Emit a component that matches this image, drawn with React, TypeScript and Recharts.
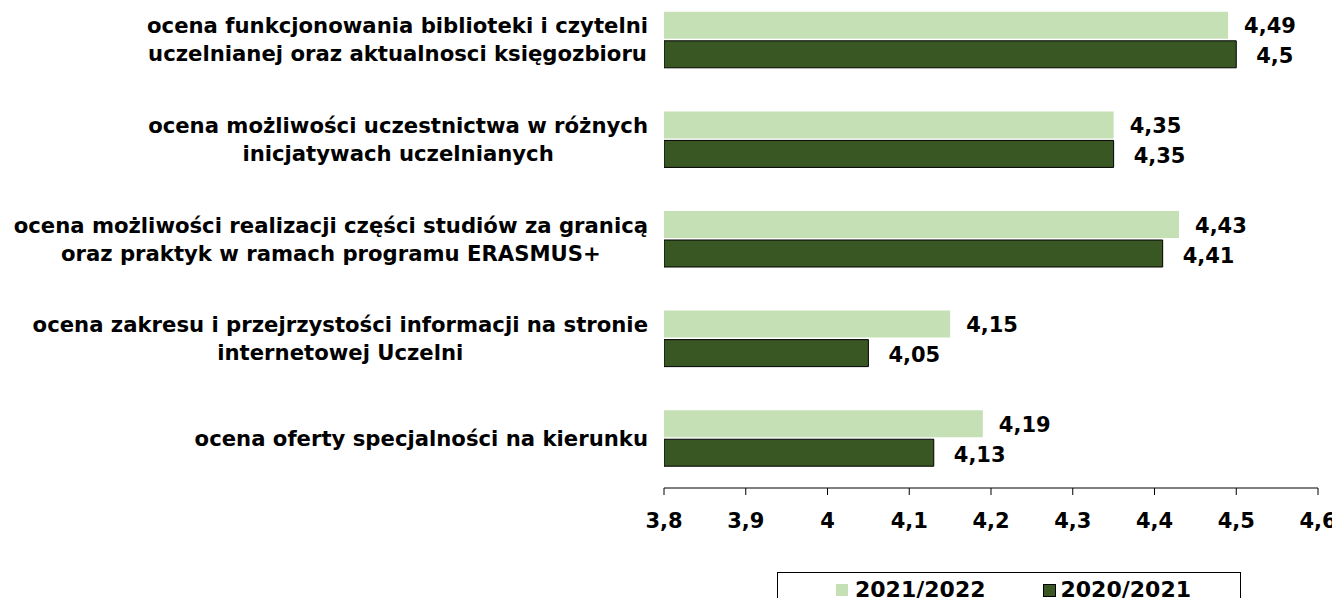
import React, { useLayoutEffect, useRef, useState } from "react";
import { BarChart, Bar, XAxis, YAxis, LabelList } from "recharts";

const categories = [
  "ocena funkcjonowania biblioteki i czytelni\nuczelnianej oraz aktualnosci księgozbioru",
  "ocena możliwości uczestnictwa w różnych\ninicjatywach uczelnianych",
  "ocena możliwości realizacji części studiów za granicą\noraz praktyk w ramach programu ERASMUS+",
  "ocena zakresu i przejrzystości informacji na stronie\ninternetowej Uczelni",
  "ocena oferty specjalności na kierunku",
];
const values2122 = [4.49, 4.35, 4.43, 4.15, 4.19];
const values2021 = [4.5, 4.35, 4.41, 4.05, 4.13];
const xTicks = [3.8, 3.9, 4.0, 4.1, 4.2, 4.3, 4.4, 4.5, 4.6];

const LIGHT = "#C5E0B4";
const DARK = "#385723";
const FONT = "'DejaVu Sans', Verdana, sans-serif";
const FS = 21;

const data = categories.map((name, i) => ({
  name,
  a: values2122[i],
  b: values2021[i],
}));

const fmt = (v: number) => String(v).replace(".", ",");

// lines are centred on each other, the whole block is right-aligned to the axis
const CategoryTick = (props: any) => {
  const { x, y, payload } = props;
  const lines: string[] = String(payload.value).split("\n");
  const ref = useRef<SVGGElement>(null);
  const [w, setW] = useState<number | null>(null);
  useLayoutEffect(() => {
    if (ref.current) setW(ref.current.getBBox().width);
  }, [payload.value]);
  const right = x - 8;
  const step = 28;
  const start = y - ((lines.length - 1) * step) / 2;
  return (
    <g
      ref={ref}
      transform={`translate(${right - (w ?? 0) / 2},0)`}
      visibility={w === null ? "hidden" : "visible"}
    >
      {lines.map((l, i) => (
        <text
          key={i}
          x={0}
          y={start + i * step}
          textAnchor="middle"
          dominantBaseline="central"
          fontFamily={FONT}
          fontWeight="bold"
          fontSize={21.2}
          fill="#000"
        >
          {l}
        </text>
      ))}
    </g>
  );
};

const makeLabel = (dx: number, dy: number) => (props: any) => {
  const { x, y, width, height, value } = props;
  return (
    <text
      x={x + width + dx}
      y={y + height / 2 + dy}
      dominantBaseline="central"
      fontFamily={FONT}
      fontWeight="bold"
      fontSize={FS}
      fill="#000"
    >
      {fmt(value)}
    </text>
  );
};

const LegendBox = () => (
  <div
    style={{
      position: "absolute",
      left: 777,
      top: 572,
      width: 464,
      height: 44,
      border: "1px solid #000",
      boxSizing: "border-box",
      fontFamily: FONT,
      fontWeight: "bold",
      fontSize: 22,
      lineHeight: "26px",
      display: "flex",
      alignItems: "flex-start",
      paddingTop: 4,
      paddingLeft: 58,
    }}
  >
    <span style={{ display: "flex", alignItems: "center" }}>
      <span style={{ width: 12, height: 12, background: LIGHT, marginRight: 7 }} />
      2021/2022
    </span>
    <span style={{ display: "flex", alignItems: "center", marginLeft: 57 }}>
      <span
        style={{
          width: 11,
          height: 11,
          background: DARK,
          border: "1px solid #000",
          marginRight: 5,
        }}
      />
      2020/2021
    </span>
  </div>
);

export default function App() {
  return (
    <div style={{ margin: -8, width: 1340, height: 606, position: "relative", overflow: "hidden", background: "#fff" }}>
      <BarChart
        width={1340}
        height={606}
        data={data}
        layout="vertical"
        margin={{ top: -10, right: 22, bottom: 78, left: 0 }}
        barCategoryGap="21.9%"
        barGap={2}
      >
        <XAxis
          type="number"
          domain={[3.8, 4.6]}
          ticks={xTicks}
          tickFormatter={fmt}
          height={40}
          axisLine={{ stroke: "#000" }}
          tickLine={{ stroke: "#000" }}
          tickSize={7}
          tickMargin={18}
          tick={{ fill: "#000", fontFamily: FONT, fontWeight: "bold", fontSize: FS }}
          allowDataOverflow
        />
        <YAxis
          type="category"
          dataKey="name"
          width={664}
          axisLine={false}
          tickLine={false}
          tick={<CategoryTick />}
          interval={0}
        />
        <Bar dataKey="a" fill={LIGHT} isAnimationActive={false}>
          <LabelList dataKey="a" content={makeLabel(16, 1)} />
        </Bar>
        <Bar dataKey="b" fill={DARK} stroke="#000" strokeWidth={1} isAnimationActive={false}>
          <LabelList dataKey="b" content={makeLabel(20, 2)} />
        </Bar>
      </BarChart>
      <LegendBox />
    </div>
  );
}
